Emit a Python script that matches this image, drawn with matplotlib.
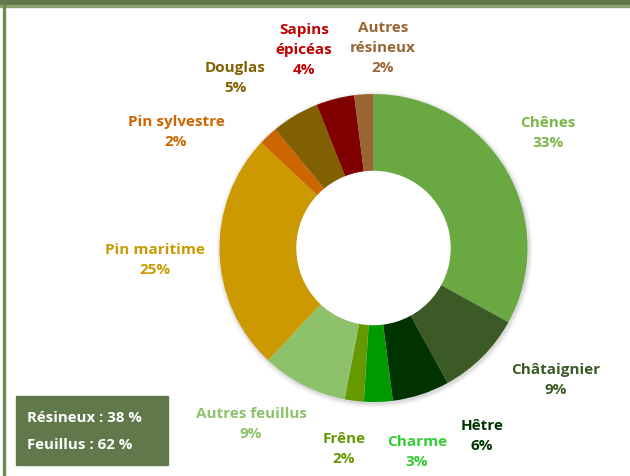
import matplotlib
matplotlib.use("Agg")
import matplotlib.pyplot as plt
from matplotlib.patches import Rectangle, Circle, Wedge

# ---- data ----
categories = ["Chênes", "Châtaignier", "Hêtre", "Charme", "Frêne", "Autres feuillus",
              "Pin maritime", "Pin sylvestre", "Douglas", "Sapins\népicéas", "Autres\nrésineux"]
values = [33, 9, 6, 3, 2, 9, 25, 2, 5, 4, 2]
summary_lines = ["Résineux : 38 %", "Feuillus : 62 %"]

# ---- styles ----
slice_colors = ["#6AA842", "#3B5A25", "#003300", "#009A00", "#669900", "#8DC26A",
                "#CC9900", "#CC6600", "#806000", "#800000", "#996633"]
label_colors = ["#7AB648", "#3B5A25", "#003300", "#33CC33", "#669900", "#8DC26A",
                "#CC9900", "#CC6600", "#806000", "#C00000", "#996633"]
# label centre positions in pixel coordinates (x, y from top)
label_pos = [(548, 133), (556, 380), (482, 436), (417, 452), (344, 449), (251, 424),
             (155, 260), (176, 132), (235, 78), (304, 50), (383, 48)]

W, H = 630, 477
fig = plt.figure(figsize=(6.3, 4.77), dpi=100)
ax = fig.add_axes([0, 0, 1, 1])
ax.set_xlim(0, W)
ax.set_ylim(0, H)
ax.set_aspect("equal")
ax.axis("off")

# frame: top band and left border
ax.add_patch(Rectangle((0, H - 6), W, 6, color="#61794A", zorder=1))
ax.add_patch(Rectangle((0, H - 7.5), W, 1.5, color="#8AA36E", zorder=1))
ax.add_patch(Rectangle((2.5, 0), 2, H - 6, color="#6E8B53", zorder=1))

cx, cy, R = 373.5, H - 249, 154
# subtle shadow
for i, a in enumerate([0.05, 0.04, 0.03, 0.02]):
    ax.add_patch(Circle((cx + 1, cy - 1.5), R + 1 + i * 1.2, color="black", alpha=a, lw=0, zorder=2))

ax.pie(values, colors=slice_colors, startangle=90, counterclock=False,
       center=(cx, cy), radius=R, wedgeprops=dict(width=R * 0.503, linewidth=0),
       frame=True)
ax.set_xlim(0, W)
ax.set_ylim(0, H)
ax.axis("off")
for p in ax.patches:
    if isinstance(p, Wedge):
        p.set_zorder(3)
ax.add_patch(Circle((cx, cy), R * 0.497, color="white", zorder=4))

font = ["Open Sans", "DejaVu Sans"]
for cat, v, col, (px, py) in zip(categories, values, label_colors, label_pos):
    ax.text(px, H - py, f"{cat}\n{v}%", ha="center", va="center", color=col,
            fontsize=11, fontweight="bold", family=font, linespacing=1.55, zorder=5)

# summary box
ax.add_patch(Rectangle((16, H - 466), 152, 69, color="#61794A", zorder=5))
for i, line in enumerate(summary_lines):
    ax.text(27, H - (418 + i * 27), line, ha="left", va="center", color="white",
            fontsize=10.8, fontweight="bold", family=["Open Sans", "DejaVu Sans"], zorder=6)

fig.savefig("out.png", dpi=100)
